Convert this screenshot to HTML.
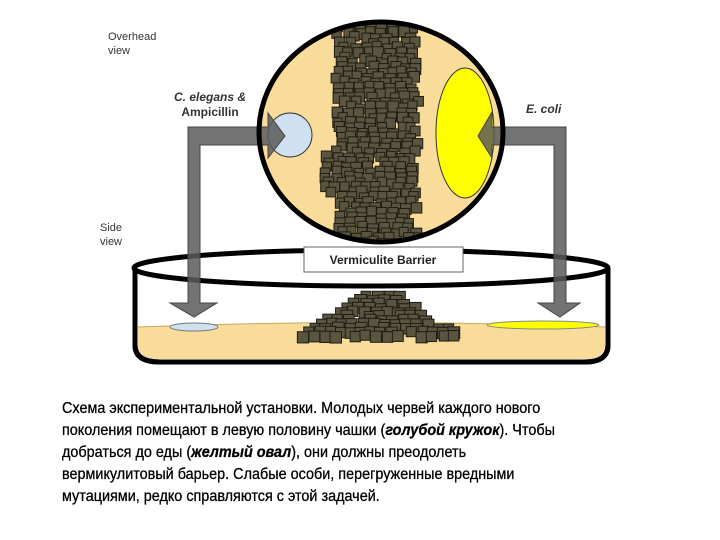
<!DOCTYPE html>
<html><head><meta charset="utf-8">
<style>
body{margin:0;background:#fff;width:720px;height:540px;overflow:hidden;position:relative;font-family:"Liberation Sans",Arial,sans-serif}
.cap{position:absolute;left:62px;top:398px;font-size:16px;line-height:22px;color:#000;white-space:nowrap;transform:scaleX(0.9);transform-origin:0 0;-webkit-text-stroke:0.3px #000}
</style></head><body>
<svg id="s" width="720" height="540" style="position:absolute;left:0;top:0" xmlns="http://www.w3.org/2000/svg">
<defs><clipPath id="cc"><ellipse cx="381" cy="132" rx="122" ry="110"/></clipPath></defs>
<path d="M135 268 L135 345 Q135 362 160 362 L585 362 Q608 362 608 345 L608 268" fill="#fff" stroke="#000" stroke-width="5"/>
<path d="M138 327 Q371 318 605 327 L605 345 Q605 359 585 359 L160 359 Q138 359 138 345 Z" fill="#f9dc9a"/>
<path d="M138 327 Q371 318 605 327" fill="none" stroke="#c8a860" stroke-width="1"/>
<path d="M135 345 Q135 362 160 362 L585 362 Q608 362 608 345" fill="none" stroke="#000" stroke-width="5"/>
<ellipse cx="371" cy="268" rx="237" ry="18" fill="none" stroke="#000" stroke-width="5"/>
<ellipse cx="194" cy="327" rx="24" ry="4" fill="#cfe0f0" stroke="#777" stroke-width="1"/>
<ellipse cx="543" cy="325" rx="56" ry="4" fill="#ffff00" stroke="#888" stroke-width="1"/>
<g id="pile"></g>
<ellipse cx="381" cy="132" rx="122" ry="110" fill="#f9dc9a"/>
<g id="col" clip-path="url(#cc)"></g>
<circle cx="290" cy="135" r="22" fill="#cfe0f0" stroke="#333" stroke-width="1"/>
<ellipse cx="465" cy="133" rx="29" ry="65" fill="#ffff00" stroke="#333" stroke-width="1"/>
<path d="M188 127 L268 127 L268 113 L285 136 L268 158 L268 145 L200 145 L200 303 L217 303 L194 317 L170 303 L188 303 Z" fill="#5a5a5a" fill-opacity="0.85" stroke="#444" stroke-width="1"/>
<path d="M566 127 L492 127 L492 112 L478 136 L492 158 L492 145 L554 145 L554 303 L538 303 L560 317 L580 303 L566 303 Z" fill="#5a5a5a" fill-opacity="0.85" stroke="#444" stroke-width="1"/>
<ellipse cx="381" cy="132" rx="122" ry="110" fill="none" stroke="#000" stroke-width="5"/>
<rect x="304" y="247" width="159" height="25" fill="#fff" stroke="#666" stroke-width="1"/>
<text x="383" y="264" font-size="12" font-weight="bold" text-anchor="middle" font-family="Liberation Sans,Arial,sans-serif" fill="#222">Vermiculite Barrier</text>
<g font-family="Liberation Sans,Arial,sans-serif" font-size="11" fill="#333">
<text x="108" y="40">Overhead</text><text x="108" y="54">view</text>
<text x="100" y="231">Side</text><text x="100" y="245">view</text>
<text x="210" y="101" font-size="12" font-weight="bold" font-style="italic" text-anchor="middle">C. elegans &amp;</text>
<text x="210" y="116" font-size="12" font-weight="bold" text-anchor="middle">Ampicillin</text>
<text x="526" y="113" font-size="12" font-weight="bold" font-style="italic">E. coli</text>
</g>
</svg>
<div class="cap">Схема экспериментальной установки. Молодых червей каждого нового<br>поколения помещают в левую половину чашки (<b><i>голубой кружок</i></b>). Чтобы<br>добраться до еды (<b><i>желтый овал</i></b>), они должны преодолеть<br>вермикулитовый барьер. Слабые особи, перегруженные вредными<br>мутациями, редко справляются с этой задачей.</div>
<script>
var ns="http://www.w3.org/2000/svg",seed=7;
function r(){seed=(seed*16807)%2147483647;return seed/2147483647;}
function sq(g,x,y,s){var e=document.createElementNS(ns,"rect");e.setAttribute("x",x);e.setAttribute("y",y);e.setAttribute("width",s);e.setAttribute("height",s);e.setAttribute("fill","#5a5540");e.setAttribute("stroke","#1f1d12");e.setAttribute("stroke-width","1");g.appendChild(e);}
var col=document.getElementById("col");
for(var y=16;y<245;y+=5){var l=331+(y>150&&y<190?-15:0)+r()*8,rr=422-r()*8;for(var x=l;x<rr-8;x+=9+r()*3){if(r()<0.92)sq(col,x+r()*3,y+r()*3,9+r()*2);}}
var pile=document.getElementById("pile");
for(var yy=290;yy<334;yy+=4){var t=(yy-290)/44;var w=22+t*70;for(var x=383-w;x<383+w-9;x+=9+r()*4){if(r()<0.85)sq(pile,x,yy+r()*2,10+r()*2);}}
</script>
</body></html>
